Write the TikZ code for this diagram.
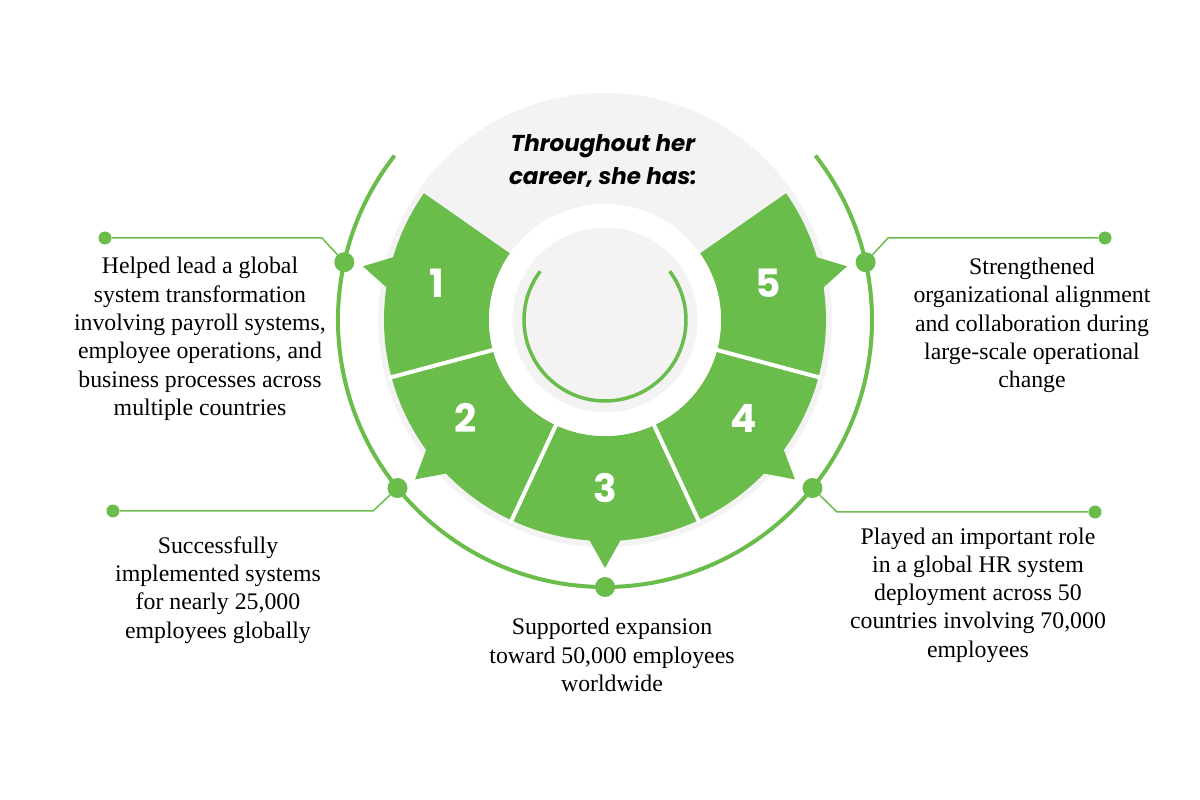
\documentclass[tikz,border=0pt]{standalone}
\usepackage{fontspec}
\setmainfont{Liberation Serif}
\newfontfamily\headfont{Poppins}
\definecolor{leaf}{HTML}{6ABD4B}
\definecolor{mist}{HTML}{F3F3F3}
\newcommand{\petal}[2]{\fill[leaf] (#1:116) -- (#1:221) arc[start angle=#1, end angle=#2-4, radius=221] -- (#2:248) -- ({#2+4}:221) arc[start angle=#2+4, end angle=#1+50, radius=221] -- ({#1+50}:116) arc[start angle=#1+50, end angle=#1, radius=116] -- cycle;}

\begin{document}
\begin{tikzpicture}[x=1pt, y=1pt,
  bigdot/.style={circle, fill=leaf, inner sep=0pt, minimum size=20pt},
  smalldot/.style={circle, fill=leaf, inner sep=0pt, minimum size=13pt},
  link/.style={leaf, line width=1.5pt},
  num/.style={text=white, font=\headfont\bfseries\fontsize{39}{39}\selectfont},
  note/.style={align=center, font=\fontsize{23.8}{28.3}\selectfont}]
\useasboundingbox (-605,-480) rectangle (595,320);
\fill[white] (-605,-480) rectangle (595,320);
\fill[mist] (0,0) circle[radius=227];
\foreach \a/\n in {145/167.5, 195/220, 245/270, 295/320, 345/372.5} {\petal{\a}{\n}}
\foreach \a in {195,245,295,345} {\draw[white, line width=4pt] (\a:114) -- (\a:224);}
\fill[white] (0,0) circle[radius=116];
\fill[mist] (0,0) circle[radius=92.5];
\draw[leaf, line width=3.5pt] (143:81) arc[start angle=143, end angle=397, radius=81];
\draw[leaf, line width=4pt] (142:267) arc[start angle=142, end angle=398, radius=267];
\node[font=\headfont\bfseries\itshape\fontsize{23}{33}\selectfont, align=center] (title) at (-2,159) {Throughout her\\career, she has:};
\node[num] (n1) at (-168,37) {1};
\node[num] (n2) at (-139,-98) {2};
\node[num] (n3) at (0,-168) {3};
\node[num] (n4) at (139,-98) {4};
\node[num] (n5) at (163,37) {5};
\node[bigdot] (d1) at (167.5:267) {};
\node[bigdot] (d2) at (219:267) {};
\node[bigdot] (d3) at (270:267) {};
\node[bigdot] (d4) at (321:267) {};
\node[bigdot] (d5) at (12.5:267) {};
\node[smalldot] (e1) at (-500,82) {};
\node[smalldot] (e2) at (-492,-191) {};
\node[smalldot] (e4) at (490,-192) {};
\node[smalldot] (e5) at (500,82) {};
\coordinate (k1) at (-283,82);
\coordinate (k2) at (-232,-191);
\coordinate (k4) at (232,-192);
\coordinate (k5) at (283,82);
\draw[link] (d1) -- (k1) -- (e1);
\draw[link] (d2) -- (k2) -- (e2);
\draw[link] (d4) -- (k4) -- (e4);
\draw[link] (d5) -- (k5) -- (e5);
\node[note] (t1) at (-405,-19) {Helped lead a global\\system transformation\\involving payroll systems,\\employee operations, and\\business processes across\\multiple countries};
\node[note] (t2) at (-387,-270) {Successfully\\implemented systems\\for nearly 25,000\\employees globally};
\node[note] (t3) at (7,-335) {Supported expansion\\toward 50,000 employees\\worldwide};
\node[note] (t4) at (373,-275) {Played an important role\\in a global HR system\\deployment across 50\\countries involving 70,000\\employees};
\node[note] (t5) at (427,-5.5) {Strengthened\\organizational alignment\\and collaboration during\\large-scale operational\\change};
\end{tikzpicture}
\end{document}
